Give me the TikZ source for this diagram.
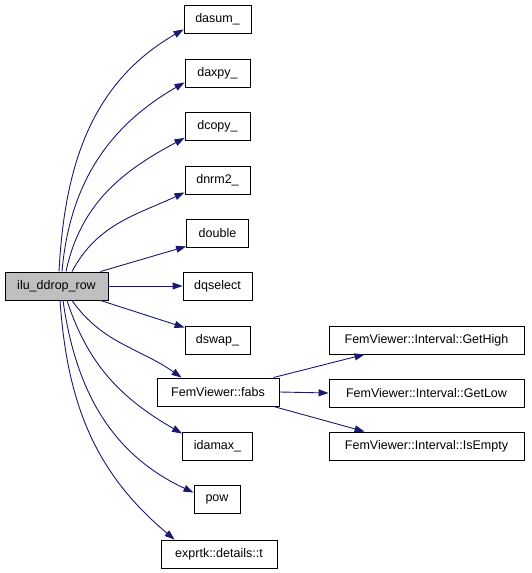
\documentclass[tikz,border=0pt]{standalone}
\usepackage{fontspec}
\setmainfont{Liberation Sans}
\usetikzlibrary{arrows.meta,calc}
\definecolor{edgeblue}{RGB}{25,25,112}
\definecolor{rootgray}{RGB}{191,191,191}
\begin{document}
\begin{tikzpicture}[x=1pt,y=1pt,
  box/.style={draw=black,line width=0.9pt,fill=white,minimum height=28pt,inner sep=0pt,font=\fontsize{12.5}{14}\selectfont},
  edge/.style={draw=edgeblue,line width=0.9pt,-{Triangle[length=10pt,width=7pt]}}]
\useasboundingbox (0,0) rectangle (531,573);
\node[box,fill=rootgray,minimum width=103pt] (ilu) at (56.5,287) {ilu\_ddrop\_row};
\node[box,minimum width=67pt] (dasum) at (217.5,554) {dasum\_};
\node[box,minimum width=65pt] (daxpy) at (217.5,500) {daxpy\_};
\node[box,minimum width=65pt] (dcopy) at (217.5,446.5) {dcopy\_};
\node[box,minimum width=65pt] (dnrm2) at (217.5,393) {dnrm2\_};
\node[box,minimum width=62pt] (double) at (217.5,340) {double};
\node[box,minimum width=69pt] (dqselect) at (217.5,287) {dqselect};
\node[box,minimum width=65pt] (dswap) at (217.5,233) {dswap\_};
\node[box,minimum width=122pt] (fabs) at (218,181) {FemViewer::fabs};
\node[box,minimum width=70pt] (idamax) at (217.5,127) {idamax\_};
\node[box,minimum width=46pt] (pow) at (217,74) {pow};
\node[box,minimum width=116pt] (exprtk) at (219,19) {exprtk::details::t};
\node[box,minimum width=195pt] (gethigh) at (426.5,233) {FemViewer::Interval::GetHigh};
\node[box,minimum width=195pt] (getlow) at (426.5,180) {FemViewer::Interval::GetLow};
\node[box,minimum width=195pt] (isempty) at (426.5,127) {FemViewer::Interval::IsEmpty};
% upper edges
\draw[edge] ($(ilu.north)+(2.5,0)$) to[out=87,in=210] ($(dasum.south west)+(0,4)$);
\draw[edge] ($(ilu.north)+(5.5,0)$) to[out=85,in=210] ($(daxpy.south west)+(0,5)$);
\draw[edge] ($(ilu.north)+(9.5,0)$) to[out=78,in=208] ($(dcopy.south west)+(0,3)$);
\draw[edge] ($(ilu.north)+(15.5,0)$) to[out=62,in=205] ($(dnrm2.south west)+(0,2)$);
\draw[edge] ($(ilu.north east)+(-8,0)$) -- ($(double.south west)+(0,1)$);
\draw[edge] (ilu.east) -- (dqselect.west);
% lower edges
\draw[edge] ($(ilu.south east)+(-8,0)$) -- ($(dswap.north west)+(0,-2)$);
\draw[edge] ($(ilu.south)+(15.5,0)$) to[out=-55,in=145] ($(fabs.north west)+(25,0)$);
\draw[edge] ($(ilu.south)+(10.5,0)$) to[out=-72,in=150] ($(idamax.north west)+(0,-2)$);
\draw[edge] ($(ilu.south)+(6.5,0)$) to[out=-82,in=155] ($(pow.north west)+(0,-8)$);
\draw[edge] ($(ilu.south)+(3.5,0)$) to[out=-86,in=140] ($(exprtk.north west)+(14,0)$);
% fabs edges
\draw[edge] ($(fabs.north east)+(-6,0)$) -- ($(gethigh.south west)+(36,0)$);
\draw[edge] (fabs.east) -- (getlow.west);
\draw[edge] ($(fabs.south east)+(-6,0)$) -- ($(isempty.north west)+(36,0)$);
\end{tikzpicture}
\end{document}
